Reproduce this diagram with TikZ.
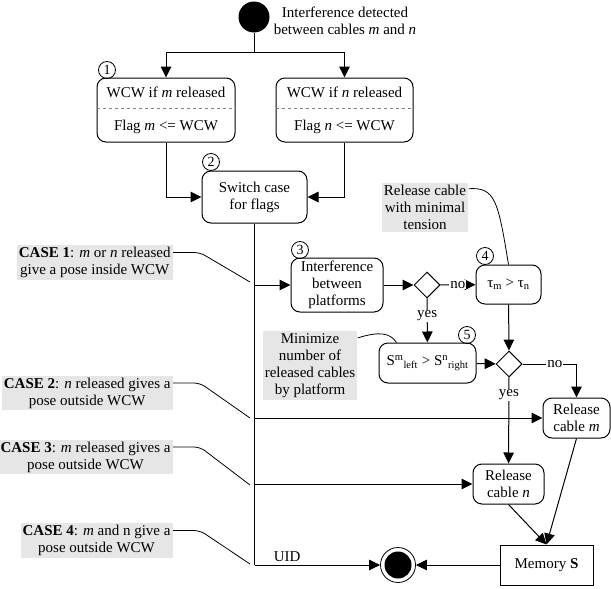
\documentclass[tikz,border=0pt]{standalone}
\usepackage{fontspec}
\setmainfont{Liberation Serif}
\usetikzlibrary{shapes.geometric,arrows.meta,calc}
\definecolor{tipgray}{RGB}{230,230,230}

\tikzset{
  act/.style={draw, rounded corners=9pt, align=center, inner sep=2pt},
  numc/.style={draw, circle, inner sep=0pt, minimum size=17pt, line width=0.8pt, font=\fontsize{14}{14}\selectfont},
  tip/.style={fill=tipgray, align=center, inner sep=2pt},
  dec/.style={draw, diamond, inner sep=0pt, minimum width=26pt, minimum height=26pt},
  lbl/.style={fill=white, inner sep=1pt},
  note/.style={line width=0.8pt},
}

\begin{document}
\begin{tikzpicture}[x=1pt, y=-1pt, line width=1pt, >={Triangle[length=11pt,width=10.5pt]},
  every node/.style={font=\fontsize{15}{17}\selectfont}]
    \useasboundingbox (0,0) rectangle (611,589);

    % start and the two WCW checks
    \node[circle, fill=black, minimum size=31pt, inner sep=0pt] (start) at (254,17) {};
    \node[align=center] (startlbl) at (345,21) {Interference detected\\between cables \textit{m} and \textit{n}};
    \node[act, minimum width=138pt, minimum height=64pt] (wcwm) at (166,110) {WCW if \textit{m} released\\[16pt]Flag \textit{m} <= WCW};
    \node[act, minimum width=137pt, minimum height=64pt] (wcwn) at (344.5,110) {WCW if \textit{n} released\\[16pt]Flag \textit{n} <= WCW};
    \draw[dashed, gray, line width=0.6pt] ([yshift=2pt]wcwm.west) -- ([yshift=2pt]wcwm.east);
    \draw[dashed, gray, line width=0.6pt] ([yshift=2pt]wcwn.west) -- ([yshift=2pt]wcwn.east);
    \coordinate (fork) at (254,52);
    \draw (start) -- (fork);
    \draw[->] (fork) -| (wcwm);
    \draw[->] (fork) -| (wcwn);

    % switch
    \node[act, minimum width=105pt, minimum height=52pt] (switch) at (254.5,197) {Switch case\\for flags};
    \draw[->] (wcwm) |- (switch);
    \draw[->] (wcwn) |- (switch);

    % trunk
    \coordinate (b1) at (254.5,285);
    \coordinate (b2) at (254.5,418);
    \coordinate (b3) at (254.5,484);
    \coordinate (uid) at (254.5,565);
    \draw (switch) -- (uid);

    % case 1 branch
    \node[act, minimum width=92pt, minimum height=54pt, inner sep=1pt] (interf) at (337,285) {Interference\\between\\platforms};
    \node[dec] (d1) at (427,285) {};
    \node[act, minimum width=65pt, minimum height=39pt] (tau) at (508.5,284.5) {τ\textsubscript{m} > τ\textsubscript{n}};
    \node[act, minimum width=97pt, minimum height=40pt] (sbox) at (427.5,363) {S\textsuperscript{m}\textsubscript{left} > S\textsuperscript{n}\textsubscript{right}};
    \node[dec] (d2) at (509,364) {};
    \draw[->] (b1) -- (interf);
    \draw[->] (interf) -- (d1);
    \draw[->] (d1) -- node[lbl]{no} (tau);
    \draw[->] (d1) -- node[lbl, pos=0.4]{yes} (sbox);
    \draw[->] (tau) -- (d2);
    \draw[->] (sbox) -- (d2);

    % releases and memory
    \node[act, minimum width=67pt, minimum height=40pt] (relm) at (576.5,418) {Release\\cable \textit{m}};
    \node[act, minimum width=71pt, minimum height=40pt] (reln) at (508.5,484) {Release\\cable \textit{n}};
    \node[draw, minimum width=93pt, minimum height=40pt] (mem) at (546.5,565) {Memory \textbf{S}};
    \node[circle, draw, minimum size=35pt, inner sep=0pt, line width=0.8pt] (final) at (398,565) {};
    \fill (final.center) circle (13.5);
    \draw[->] (d2) -| node[lbl, pos=0.3]{no} (relm);
    \draw[->] (d2) -- node[lbl, pos=0.2]{yes} (reln);
    \draw[->] (b2) -- (relm);
    \draw[->] (b3) -- (reln);
    \draw[->] (reln.south) -- (mem.north);
    \draw[->] (relm.south) -- (mem.north);
    \draw[->] (mem) -- (final);
    \draw[->] (uid) -- node[above, pos=0.26]{UID} (final);

    % step numbers
    \node[numc] (n1) at (107,70) {1};
    \node[numc] (n2) at (211,162) {2};
    \node[numc] (n3) at (300,250) {3};
    \node[numc] (n4) at (485,256) {4};
    \node[numc] (n5) at (467,335) {5};

    % notes
    \node[tip] (rtip) at (425,207.5) {Release cable\\with minimal\\tension};
    \draw[note] ([yshift=-6pt]rtip.north east) .. controls (495,187) and (498,200) .. (tau.north);
    \node[tip] (mtip) at (310,365.5) {Minimize\\number of\\released cables\\by platform};
    \draw[note] ([yshift=-7pt]mtip.north east) .. controls (380,331) and (390,333) .. ([xshift=18pt]sbox.north west);

    % cases
    \node[tip, anchor=east] (case1) at (173,262.5) {\textbf{CASE 1}: \textit{m} or \textit{n} released\\give a pose inside WCW};
    \node[tip, anchor=east] (case2) at (173,393) {\textbf{CASE 2}: \textit{n} released gives a\\pose outside WCW};
    \node[tip, anchor=east] (case3) at (173,457) {\textbf{CASE 3}: \textit{m} released gives a\\pose outside WCW};
    \node[tip, anchor=east] (case4) at (173,540.5) {\textbf{CASE 4}: \textit{m} and n give a\\pose outside WCW};
    \coordinate (e1) at (250,282);
    \coordinate (e2) at (250,418);
    \coordinate (e3) at (250,485);
    \coordinate (e4) at (250,564);
    \draw[note, rounded corners=6pt] ([yshift=10pt]case1.east) -- ++(27,0) -- (e1);
    \draw[note, rounded corners=6pt] ([yshift=10pt]case2.east) -- ++(27,0) -- (e2);
    \draw[note, rounded corners=6pt] ([yshift=10pt]case3.east) -- ++(27,0) -- (e3);
    \draw[note, rounded corners=6pt] ([yshift=10pt]case4.east) -- ++(27,0) -- (e4);
\end{tikzpicture}
\end{document}
